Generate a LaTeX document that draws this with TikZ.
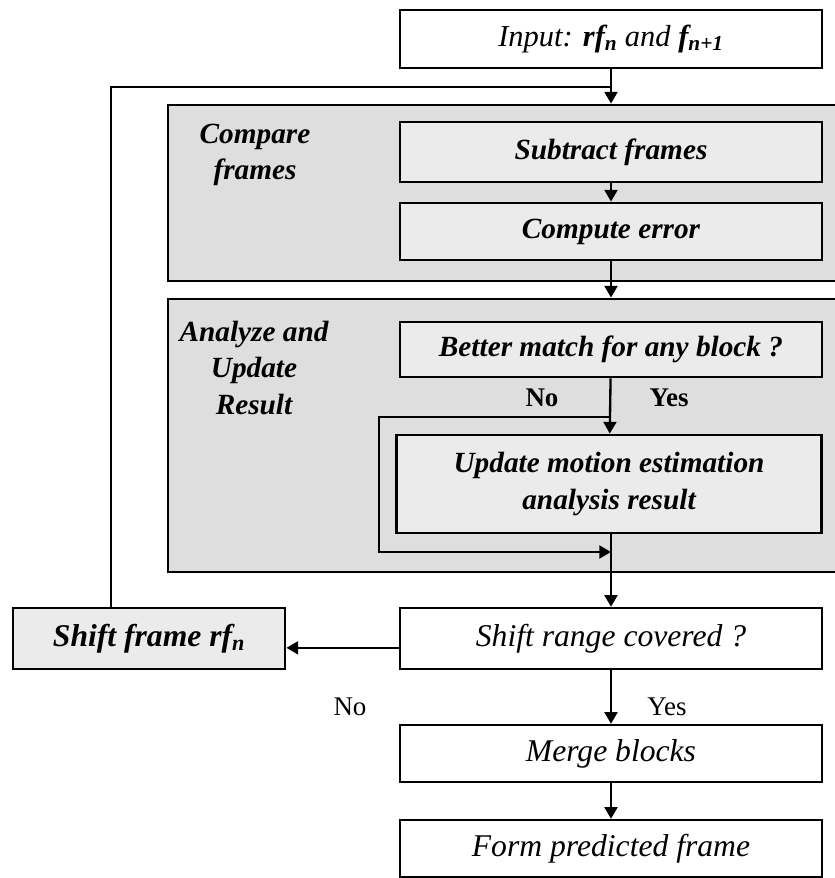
\documentclass[tikz,border=0pt]{standalone}
\usepackage{fontspec}
\setmainfont{Liberation Serif}
\usetikzlibrary{positioning, arrows.meta}

\begin{document}
\begin{tikzpicture}[
    x=0.03cm, y=-0.03cm,
    group/.style={rectangle, draw, line width=2.4pt, fill=black!13, minimum width=20.22cm, inner sep=0pt},
    grplabel/.style={align=center, inner sep=0pt, font=\fontsize{25}{31}\selectfont\bfseries\itshape},
    stage/.style={rectangle, draw, line width=2.4pt, fill=black!8, minimum width=12.66cm, minimum height=1.74cm, inner sep=0pt, align=center, font=\fontsize{25}{31}\selectfont\bfseries\itshape},
    plain/.style={rectangle, draw, line width=2pt, fill=white, minimum width=12.66cm, minimum height=1.74cm, inner sep=0pt, align=center, font=\fontsize{27}{32}\selectfont\itshape},
    arr/.style={-{Triangle[length=10pt,width=11pt]}, line width=2pt},
    fb/.style={line width=1.1pt},
    answer/.style={inner sep=0pt, font=\fontsize{23}{27}\selectfont}
]
\useasboundingbox (0,0) rectangle (834,878);

% input and feedback
\node[plain, font=\fontsize{26}{31}\selectfont\itshape] (input) at (611,39) {Input: \textbf{rf\textsubscript{n}} and \textbf{f\textsubscript{n+1}}};
\coordinate (fbjoin) at (611,87);
\coordinate (fbcorner) at (111,87);

% compare frames
\node[group, minimum height=5.28cm] (cmpgrp) at (505,193) {};
\node[grplabel] (cmplabel) at (255,155) {Compare\\frames};
\node[stage, minimum height=1.8cm] (subtract) at (611,152) {Subtract frames};
\node[stage, minimum height=1.71cm] (compute) at (611,231.5) {Compute error};

% analyze and update result
\node[group, minimum height=8.19cm] (anagrp) at (505,435.5) {};
\node[grplabel] (analabel) at (254,368) {Analyze and\\Update\\Result};
\node[stage, minimum height=1.65cm] (better) at (611,349.5) {Better match for any block ?};
\node[stage, minimum height=2.94cm, minimum width=12.75cm] (update) at (609,484) {Update motion estimation\\analysis result};
\node[answer, font=\fontsize{23}{27}\selectfont\bfseries] (no1) at (542,398) {No};
\node[answer, font=\fontsize{23}{27}\selectfont\bfseries] (yes1) at (669,398) {Yes};
\coordinate (nosplit) at (611,417);
\coordinate (nomerge) at (611,552);

% shift and finish
\node[plain, minimum height=1.83cm] (shiftrng) at (611,638.5) {Shift range covered ?};
\node[stage, minimum width=8.16cm, minimum height=1.83cm, font=\fontsize{27}{32}\selectfont\bfseries\itshape] (shiftfr) at (149,638.5) {Shift frame rf\textsubscript{n}};
\node[answer] (no2) at (350,707) {No};
\node[answer] (yes2) at (667,707) {Yes};
\node[plain, minimum height=1.71cm] (merge) at (611,753.5) {Merge blocks};
\node[plain, minimum height=1.71cm] (form) at (611,848.5) {Form predicted frame};

\draw[arr] (input.south) -- (input.south |- cmpgrp.north);
\draw[fb] (fbcorner |- shiftfr.north) -- (fbcorner) -- (fbjoin);
\draw[arr] (subtract) -- (compute);
\draw[arr] (compute.south) -- (compute.south |- anagrp.north);
\draw[arr] (better) -- (update);
\draw[arr] (nosplit) -- ++(-232,0) |- (nomerge);
\draw[arr] (update.south -| shiftrng.north) -- (shiftrng.north);
\draw[arr] ([yshift=-0.28cm]shiftrng.west) -- ([yshift=-0.28cm]shiftfr.east);
\draw[arr] (shiftrng) -- (merge);
\draw[arr] (merge) -- (form);

\end{tikzpicture}
\end{document}
